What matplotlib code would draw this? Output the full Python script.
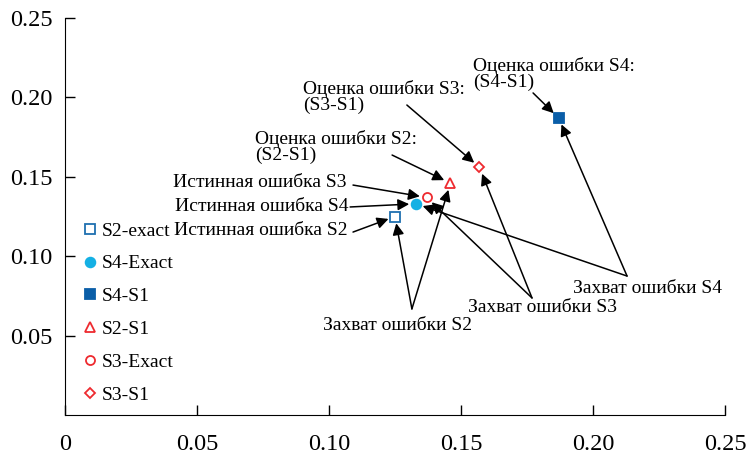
import matplotlib
matplotlib.use("Agg")
import matplotlib.pyplot as plt

plt.rcParams['font.family'] = ['Liberation Serif', 'DejaVu Serif']

# series (x = y for every point)
names = ["S2-exact", "S4-Exact", "S4-S1", "S2-S1", "S3-Exact", "S3-S1"]
xs = [0.125, 0.133, 0.187, 0.146, 0.137, 0.157]
ys = [0.125, 0.133, 0.187, 0.146, 0.137, 0.156]
markers = ["s", "o", "s", "^", "o", "D"]
faces = ["white", "#14b0e4", "#0a5ea8", "white", "white", "white"]
edges = ["#1f6fb0", "#14b0e4", "#0a5ea8", "#ee2a2f", "#ee2a2f", "#ee2a2f"]
sizes = [7, 7, 7, 6.5, 6.5, 5]

ticks_x = [0, 0.05, 0.10, 0.15, 0.20, 0.25]
ticks_y = [0.05, 0.10, 0.15, 0.20, 0.25]

fig = plt.figure(figsize=(7.48, 4.54), dpi=100)
ax = fig.add_axes([65/748, 39/454, 660/748, 397/454])

pts = {}
for n, x, y, m, fc, ec, s in zip(names, xs, ys, markers, faces, edges, sizes):
    ax.plot([x], [y], ls="none", marker=m, ms=s, mfc=fc, mec=ec, mew=1.3,
            label=n, zorder=5)
    pts[n] = (x, y)

ax.set_xlim(0, 0.25)
ax.set_ylim(0, 0.25)
ax.set_xticks(ticks_x)
ax.set_xticklabels(["0" if t == 0 else "%.2f" % t for t in ticks_x])
ax.set_yticks(ticks_y)
ax.set_yticklabels(["%.2f" % t for t in ticks_y])
ax.tick_params(axis="both", direction="in", length=7, width=1, labelsize=17.5)
ax.tick_params(axis="x", pad=14)
ax.tick_params(axis="y", pad=9)
ax.spines["top"].set_visible(False)
ax.spines["right"].set_visible(False)

fs = 14
arrow = dict(arrowstyle="-|>", color="black", lw=1.1, mutation_scale=17,
             shrinkA=0, shrinkB=5)

def arr(start, target):
    ax.annotate("", xy=pts[target], xytext=start, arrowprops=arrow, zorder=4)

# estimate labels
ax.text(0.1545, 0.2254, "Оценка ошибки S4:\n(S4-S1)", fontsize=fs, va="top", ha="left", linespacing=0.9)
arr((0.1773, 0.2028), "S4-S1")
ax.text(0.0902, 0.2110, "Оценка ошибки S3:\n(S3-S1)", fontsize=fs, va="top", ha="left", linespacing=0.9)
arr((0.1295, 0.1952), "S3-S1")
ax.text(0.0720, 0.1795, "Оценка ошибки S2:\n(S2-S1)", fontsize=fs, va="top", ha="left", linespacing=0.9)
arr((0.1239, 0.1637), "S2-S1")

# true error labels
ax.text(0.1068, 0.1461, "Истинная ошибка S3", fontsize=fs, va="center", ha="right")
arr((0.1091, 0.1448), "S3-Exact")
ax.text(0.1072, 0.1310, "Истинная ошибка S4", fontsize=fs, va="center", ha="right")
arr((0.1080, 0.1310), "S4-Exact")
ax.text(0.1072, 0.1159, "Истинная ошибка S2", fontsize=fs, va="center", ha="right")
arr((0.1091, 0.1152), "S2-exact")

# capture labels
ax.text(0.1261, 0.0617, "Захват ошибки S2", fontsize=fs, va="top", ha="center")
arr((0.1314, 0.0668), "S2-exact")
arr((0.1314, 0.0668), "S2-S1")
ax.text(0.1807, 0.0730, "Захват ошибки S3", fontsize=fs, va="top", ha="center")
arr((0.1769, 0.0737), "S3-S1")
arr((0.1769, 0.0737), "S3-Exact")
ax.text(0.2208, 0.0850, "Захват ошибки S4", fontsize=fs, va="top", ha="center")
arr((0.2129, 0.0875), "S4-S1")
arr((0.2129, 0.0875), "S4-Exact")

ax.legend(loc="upper left", bbox_to_anchor=(84/748, 1 - 222/454), bbox_transform=fig.transFigure,
          frameon=False, fontsize=fs, handlelength=0.6, handletextpad=0.3,
          labelspacing=0.78, borderpad=0, borderaxespad=0)

fig.savefig("out.png", dpi=100)
